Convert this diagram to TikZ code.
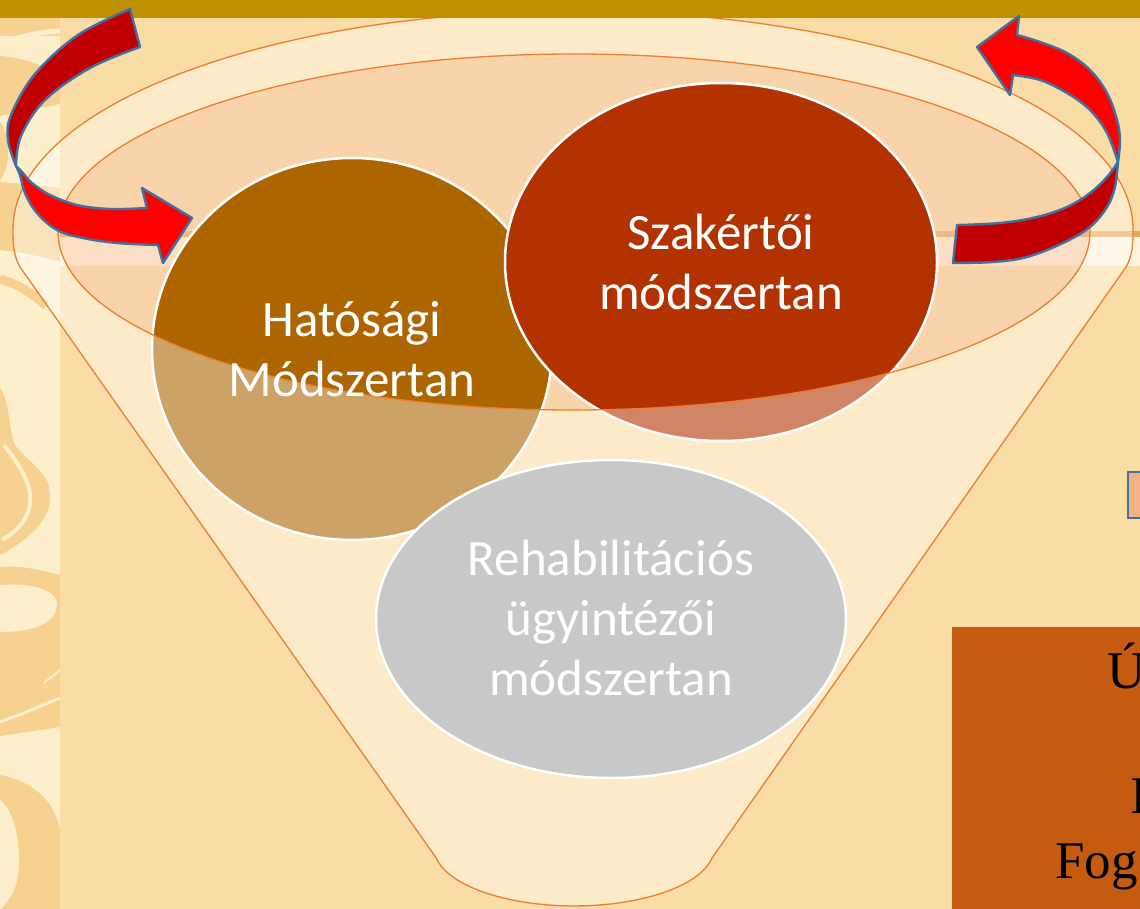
\documentclass[tikz,border=0pt]{standalone}
\usepackage{fontspec}
\setmainfont{Liberation Serif}
\newfontfamily\calib{Carlito}
\usetikzlibrary{shapes.geometric}
\definecolor{bgC}{HTML}{FADDA6}
\definecolor{barC}{HTML}{BF9000}
\definecolor{stripC}{HTML}{FDEFCC}
\definecolor{swirlC}{HTML}{F6D190}
\definecolor{bandD}{HTML}{E2A85A}
\definecolor{bandL}{HTML}{FFF4DC}
\definecolor{funO}{HTML}{ED7D31}
\definecolor{hatC}{HTML}{AD6500}
\definecolor{szaC}{HTML}{B33300}
\definecolor{rehC}{HTML}{C8C8C8}
\definecolor{arrD}{HTML}{C00000}
\definecolor{arrL}{HTML}{FF0000}
\definecolor{arrE}{HTML}{41719C}
\definecolor{boxC}{HTML}{C55A11}
\definecolor{peachC}{HTML}{F4B183}
\tikzset{
  circ/.style={ellipse, draw=white, line width=2.5pt, inner sep=0pt},
  circtxt/.style={text=white, align=center, font=\calib\fontsize{51}{60}\selectfont},
  funline/.style={draw=funO, line width=1.3pt},
  arrband/.style={draw=arrE, line width=2.4pt, line join=round},
  swirl/.style={fill=swirlC},
  slidetxt/.style={anchor=base west, inner sep=0pt, font=\fontsize{53}{60}\selectfont, text=black}
}
\begin{document}
\begin{tikzpicture}[x=1pt,y=-1pt]
\useasboundingbox (0,0) rectangle (1140,909);
\clip (0,0) rectangle (1140,909);
% background
\fill[bgC] (0,0) rectangle (1140,909);
% left decorative strip
\fill[stripC] (0,0) rectangle (60,909);
\fill[swirl] (0,18) rectangle (60,36);
\draw[stripC, line width=5pt] (0,44) .. controls (20,36) and (40,32) .. (60,31);
\fill[swirl] (0,56) .. controls (25,58) and (45,66) .. (60,76) -- (60,104) .. controls (40,108) and (20,112) .. (0,116) -- cycle;
\fill[swirl] (0,122) .. controls (10,135) and (12,165) .. (0,180) -- cycle;
\fill[swirl] (0,182) .. controls (25,184) and (45,186) .. (60,188) -- (60,262) .. controls (40,256) and (20,252) .. (0,250) -- cycle;
\draw[swirlC, line width=9pt] (0,279) .. controls (20,285) and (35,295) .. (46,306);
\fill[swirl] (0,388) .. controls (10,400) and (8,430) .. (15,445) .. controls (30,465) and (52,472) .. (50,500) .. controls (48,525) and (20,545) .. (0,555) -- cycle;
\draw[stripC, line width=4pt] (4,445) .. controls (22,468) and (36,490) .. (28,512) .. controls (22,528) and (10,535) .. (2,540);
\fill[swirl] (0,567) .. controls (20,565) and (40,570) .. (60,575) -- (60,727) .. controls (40,730) and (20,733) .. (0,736) -- cycle;
\fill[stripC] (0,585) .. controls (30,582) and (58,590) .. (57,605) .. controls (56,625) and (30,632) .. (0,632) -- cycle;
\draw[stripC, line width=3pt] (0,722) .. controls (20,715) and (40,706) .. (60,698);
\draw[stripC, line width=2pt] (44,683) -- (60,670);
\fill[swirl] (0,775) .. controls (30,780) and (55,800) .. (60,830) -- (60,909) -- (0,909) -- cycle;
\fill[stripC] (0,800) .. controls (15,810) and (22,850) .. (18,875) .. controls (15,895) and (5,905) .. (0,909) -- cycle;
% title underline band
\fill[bandL] (60,236) rectangle (1140,266);
\fill[bandD] (60,231) rectangle (1140,237);
% inner opening (back)
\fill[white, opacity=0.4] (574,232) ellipse [x radius=516, y radius=178];
\fill[funO, opacity=0.2] (574,232) ellipse [x radius=516, y radius=178];
% circles behind the funnel front
\node[circ, fill=hatC, minimum width=400pt, minimum height=382pt] (hat) at (352,349) {};
\node[circ, fill=szaC, minimum width=432pt, minimum height=358pt] (sza) at (721,262) {};
% funnel front (with opening)
\fill[white, opacity=0.4, even odd rule]
  (20,267) .. controls (13,255) and (13,242) .. (13,229)
  arc[start angle=180, end angle=360, x radius=560, y radius=218]
  .. controls (1133,242) and (1133,255) .. (1126,267)
  -- (712,858) arc[start angle=10, end angle=170, x radius=140, y radius=58] -- cycle
  (574,232) ellipse [x radius=516, y radius=178];
\draw[funline, line join=round]
  (20,267) .. controls (13,255) and (13,242) .. (13,229)
  arc[start angle=180, end angle=360, x radius=560, y radius=218]
  .. controls (1133,242) and (1133,255) .. (1126,267)
  -- (712,858) arc[start angle=10, end angle=170, x radius=140, y radius=58] -- cycle;
\draw[funline] (574,232) ellipse [x radius=516, y radius=178];
% front circle
\node[circ, fill=rehC, minimum width=470pt, minimum height=318pt] (reh) at (611,619) {};
% circle texts
\node[circtxt] (hatT) at (hat.center) {Hatósági\\Módszertan};
\node[circtxt] (szaT) at (sza.center) {Szakértői\\módszertan};
\node[circtxt] (rehT) at ([yshift=1pt]reh.center) {Rehabilitációs\\ügyintézői\\módszertan};
% right slide elements
\node[draw=arrE, line width=2pt, fill=peachC, minimum width=20pt, minimum height=46pt, inner sep=0pt] (smallbox) at (1138,495) {};
\node[fill=boxC, minimum width=200pt, minimum height=290pt, inner sep=0pt, anchor=north west] (obox) at (952,627) {};
\node[slidetxt] (t1) at (1107,688) {Ú};
\node[slidetxt] (t2) at (1130,813) {I};
\node[slidetxt] (t3) at (1055,878) {Fog};
% top bar
\fill[barC] (0,0) rectangle (1140,18);
% left curved arrow
\filldraw[arrband, fill=arrD]
  plot[smooth, tension=0.6] coordinates {(130,9) (78,35) (35,74) (11,115) (8,140) (16,166)}
  -- plot[smooth, tension=0.6] coordinates {(16,166) (21,136) (45,100) (90,68) (140,47)} -- cycle;
\filldraw[arrband, fill=arrL]
  plot[smooth, tension=0.6] coordinates {(16,166) (20,175) (25,193) (37,213) (57,230) (83,238) (117,243) (158,245)}
  -- (163,263) -- (192,218) -- (142,188) -- (147,208)
  -- plot[smooth, tension=0.6] coordinates {(147,208) (110,209) (77,205) (50,195) (32,183) (22,172) (16,166)} -- cycle;
% right curved arrow
\filldraw[arrband, fill=arrD]
  plot[smooth, tension=0.6] coordinates {(953,263) (993,262) (1027,257) (1063,243) (1090,227) (1107,207) (1115,187) (1118,162)}
  -- plot[smooth, tension=0.6] coordinates {(1118,162) (1107,177) (1090,193) (1067,207) (1037,217) (1000,223) (957,225)} -- cycle;
\filldraw[arrband, fill=arrL]
  plot[smooth, tension=0.6] coordinates {(1118,162) (1120,140) (1117,120) (1107,93) (1090,70) (1067,53) (1040,42) (1017,35)}
  -- (1019,16) -- (977,47) -- (1010,95) -- (1013,75)
  -- plot[smooth, tension=0.6] coordinates {(1013,75) (1040,80) (1067,93) (1090,110) (1107,133) (1118,162)} -- cycle;
\end{tikzpicture}
\end{document}
